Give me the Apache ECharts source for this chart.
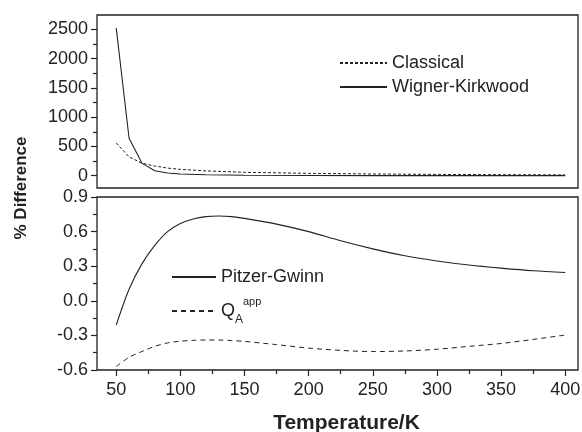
<!DOCTYPE html>
<html>
<head>
<meta charset="utf-8">
<script src="https://cdn.jsdelivr.net/npm/echarts@6/dist/echarts.min.js"></script>
<style>
  html, body { margin: 0; padding: 0; background: #fff; }
  #chart { width: 582px; height: 432px; }
</style>
</head>
<body>
<div id="chart"></div>
<script>
// 上图：Classical / Wigner-Kirkwood
const tempTop = [50, 60, 70, 80, 90, 100, 120, 150, 200, 250, 300, 350, 400];
const classical = [560, 320, 215, 165, 130, 108, 82, 58, 40, 29, 22, 17, 14];
const wignerKirkwood = [2520, 640, 215, 85, 45, 28, 15, 8, 4, 2, 1, 1, 0.5];

// 下图：Pitzer-Gwinn / Q_A^app
const tempBottom = [50, 60, 70, 80, 90, 100, 110, 120, 130, 140, 150, 175, 200, 225, 250, 275, 300, 325, 350, 375, 400];
const pitzerGwinn = [-0.21, 0.10, 0.32, 0.48, 0.60, 0.67, 0.71, 0.73, 0.735, 0.73, 0.715, 0.665, 0.60, 0.52, 0.45, 0.39, 0.345, 0.31, 0.283, 0.26, 0.245];
const qApp = [-0.57, -0.49, -0.44, -0.395, -0.365, -0.35, -0.343, -0.34, -0.34, -0.345, -0.352, -0.38, -0.41, -0.43, -0.44, -0.435, -0.42, -0.395, -0.37, -0.335, -0.297];

// 刻度
const xTicks = [50, 100, 150, 200, 250, 300, 350, 400];
const xMinorTicks = [75, 125, 175, 225, 275, 325, 375];
const yTopTicks = [0, 500, 1000, 1500, 2000, 2500];
const yTopMinorTicks = [250, 750, 1250, 1750, 2250];
const yBottomTicks = [-0.6, -0.3, 0.0, 0.3, 0.6, 0.9];
const yBottomMinorTicks = [-0.45, -0.15, 0.15, 0.45, 0.75];

const FONT = 'Liberation Sans, Arial, sans-serif';
const INK = '#222';

const pairs = (xs, ys) => xs.map((x, i) => [x, ys[i]]);

const chart = echarts.init(document.getElementById('chart'));

const tickAxis = (extra) => Object.assign({
  type: 'value',
  splitLine: { show: false },
  axisLine: { show: false, onZero: false }
}, extra);

const option = {
  animation: false,
  backgroundColor: '#fff',
  textStyle: { fontFamily: FONT, color: INK },
  grid: [
    { left: 97, right: 4, top: 15, height: 173, outerBoundsMode: 'none', show: true, borderColor: INK, borderWidth: 1.3 },
    { left: 97, right: 4, top: 197, height: 173, outerBoundsMode: 'none', show: true, borderColor: INK, borderWidth: 1.3 }
  ],
  xAxis: [
    tickAxis({ gridIndex: 0, position: 'bottom', min: 35, max: 410, axisTick: { show: false }, axisLabel: { show: false } }),
    tickAxis({
      gridIndex: 1, position: 'bottom', min: 35, max: 410,
      axisTick: { show: true, inside: false, length: 6, customValues: xTicks, lineStyle: { color: INK, width: 1.2 } },
      axisLabel: { customValues: xTicks, margin: 11, fontSize: 18, color: INK, fontFamily: FONT },
      name: 'Temperature/K',
      nameLocation: 'middle',
      nameGap: 43,
      nameTextStyle: { fontSize: 21, fontWeight: 'bold', color: INK, fontFamily: FONT, padding: [0, 0, 0, 18] }
    }),
    tickAxis({
      gridIndex: 1, position: 'bottom', min: 35, max: 410,
      axisTick: { show: true, length: 4, customValues: xMinorTicks, lineStyle: { color: INK, width: 1.2 } },
      axisLabel: { show: false }
    })
  ],
  yAxis: [
    tickAxis({
      gridIndex: 0, position: 'left', min: -210, max: 2744,
      axisTick: { show: true, length: 6, customValues: yTopTicks, lineStyle: { color: INK, width: 1.2 } },
      axisLabel: { customValues: yTopTicks, margin: 9, fontSize: 18, color: INK, fontFamily: FONT, formatter: (v) => String(v) }
    }),
    tickAxis({
      gridIndex: 0, position: 'left', min: -210, max: 2744,
      axisTick: { show: true, length: 4, customValues: yTopMinorTicks, lineStyle: { color: INK, width: 1.2 } },
      axisLabel: { show: false }
    }),
    tickAxis({
      gridIndex: 1, position: 'left', min: -0.6, max: 0.9,
      axisTick: { show: true, length: 6, customValues: yBottomTicks, lineStyle: { color: INK, width: 1.2 } },
      axisLabel: {
        customValues: yBottomTicks, margin: 9, fontSize: 18, color: INK, fontFamily: FONT,
        formatter: (v) => v.toFixed(1)
      }
    }),
    tickAxis({
      gridIndex: 1, position: 'left', min: -0.6, max: 0.9,
      axisTick: { show: true, length: 4, customValues: yBottomMinorTicks, lineStyle: { color: INK, width: 1.2 } },
      axisLabel: { show: false }
    })
  ],
  legend: [
    {
      data: ['Classical', 'Wigner-Kirkwood'],
      orient: 'vertical',
      left: 339,
      top: 54,
      padding: 0,
      itemWidth: 47,
      itemHeight: 14,
      itemGap: 6,
      itemStyle: { opacity: 0 },
      textStyle: { fontSize: 18, lineHeight: 18, color: INK, fontFamily: FONT }
    },
    {
      data: ['Pitzer-Gwinn', 'QA'],
      orient: 'vertical',
      left: 171,
      top: 268,
      padding: 0,
      itemWidth: 44,
      itemHeight: 14,
      itemGap: 10,
      itemStyle: { opacity: 0 },
      formatter: (name) => name === 'QA' ? '{q|Q}{sub|A}{sup|app}' : name,
      textStyle: {
        fontSize: 18, lineHeight: 18, color: INK, fontFamily: FONT,
        rich: {
          q: { fontSize: 18, lineHeight: 30, verticalAlign: 'middle', color: INK, fontFamily: FONT },
          sub: { fontSize: 12, lineHeight: 12, verticalAlign: 'bottom', color: INK, fontFamily: FONT },
          sup: { fontSize: 11, lineHeight: 11, verticalAlign: 'top', color: INK, fontFamily: FONT }
        }
      }
    }
  ],
  graphic: [
    {
      type: 'text',
      x: 21,
      y: 188,
      rotation: Math.PI / 2,
      style: {
        text: '% Difference',
        font: 'bold 17px ' + FONT,
        fill: INK,
        align: 'center',
        verticalAlign: 'middle'
      }
    }
  ],
  series: [
    {
      name: 'Classical', type: 'line', xAxisIndex: 0, yAxisIndex: 0,
      symbol: 'none', data: pairs(tempTop, classical),
      lineStyle: { color: INK, width: 1, type: [3, 2] }, itemStyle: { color: INK }
    },
    {
      name: 'Wigner-Kirkwood', type: 'line', xAxisIndex: 0, yAxisIndex: 0,
      symbol: 'none', data: pairs(tempTop, wignerKirkwood),
      lineStyle: { color: INK, width: 1.1 }, itemStyle: { color: INK }
    },
    {
      name: 'Pitzer-Gwinn', type: 'line', xAxisIndex: 1, yAxisIndex: 2,
      symbol: 'none', smooth: 0.3, data: pairs(tempBottom, pitzerGwinn),
      lineStyle: { color: INK, width: 1.1 }, itemStyle: { color: INK }
    },
    {
      name: 'QA', type: 'line', xAxisIndex: 1, yAxisIndex: 2,
      symbol: 'none', smooth: 0.3, data: pairs(tempBottom, qApp),
      lineStyle: { color: INK, width: 1, type: [5, 4] }, itemStyle: { color: INK }
    }
  ]
};

chart.setOption(option);
</script>
</body>
</html>
